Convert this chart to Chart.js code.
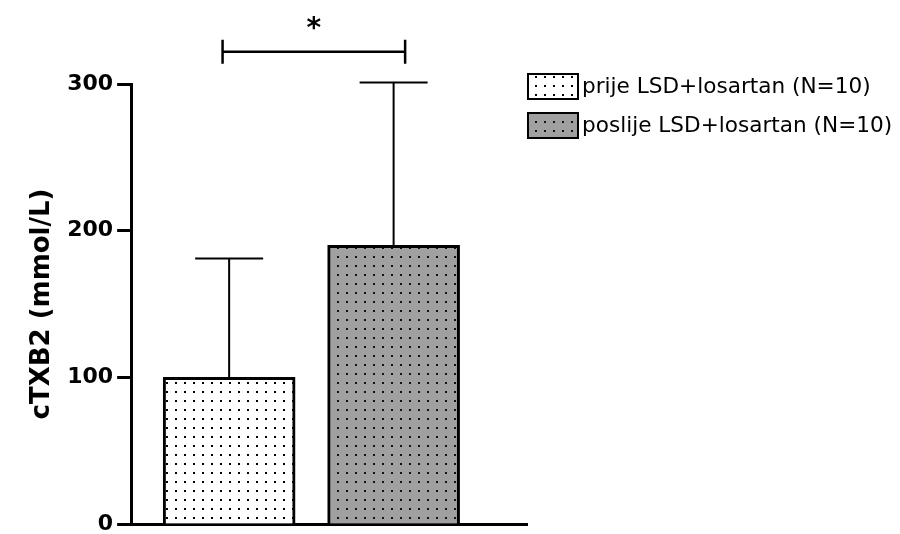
<!DOCTYPE html>
<html>
<head>
<meta charset="utf-8">
<script src="https://cdn.jsdelivr.net/npm/chart.js@4.4.1/dist/chart.umd.min.js"></script>
<style>
  html, body { margin: 0; padding: 0; background: #fff; }
  #myChart { display: block; }
</style>
</head>
<body>
<canvas id="myChart" width="900" height="534"></canvas>
<script>
// Data
const categories = ['prije LSD+losartan (N=10)', 'poslije LSD+losartan (N=10)'];
const means = [100, 190];
const errUpper = [181, 301];
const yTicks = [0, 100, 200, 300];
const yTitle = 'cTXB2 (mmol/L)';
// significance bracket between the two groups (x in category units, y in data units)
const sigFrom = -0.04;
const sigTo = 1.07;
const sigLevel = 322;
const sigLabel = '*';

function makeDots(bg, dot) {
    const c = document.createElement('canvas');
    c.width = 9;
    c.height = 9;
    const g = c.getContext('2d');
    g.fillStyle = bg;
    g.fillRect(0, 0, 9, 9);
    g.fillStyle = dot;
    g.fillRect(4, 4, 2, 2);
    return g.createPattern(c, 'repeat');
}

const fills = [makeDots('#ffffff', '#000000'), makeDots('#a0a0a0', '#111111')];

// error bars (upper only, with caps)
const errorBars = {
    id: 'errorBars',
    afterDatasetsDraw(chart) {
        const ctx = chart.ctx;
        const y = chart.scales.y;
        ctx.save();
        ctx.strokeStyle = '#000';
        ctx.lineWidth = 2;
        chart.data.datasets.forEach((ds, i) => {
            const bar = chart.getDatasetMeta(i).data[0];
            const top = y.getPixelForValue(errUpper[i]);
            ctx.beginPath();
            ctx.moveTo(bar.x, bar.y);
            ctx.lineTo(bar.x, top);
            ctx.moveTo(bar.x - 34, top);
            ctx.lineTo(bar.x + 34, top);
            ctx.stroke();
        });
        ctx.restore();
    }
};

// significance bracket with star
const sigBracket = {
    id: 'sigBracket',
    afterDraw(chart) {
        const ctx = chart.ctx;
        const x1 = chart.scales.x.getPixelForValue(sigFrom);
        const x2 = chart.scales.x.getPixelForValue(sigTo);
        const yy = chart.scales.y.getPixelForValue(sigLevel);
        ctx.save();
        ctx.strokeStyle = '#000';
        ctx.lineWidth = 2.5;
        ctx.beginPath();
        ctx.moveTo(x1, yy);
        ctx.lineTo(x2, yy);
        ctx.moveTo(x1, yy - 12);
        ctx.lineTo(x1, yy + 12);
        ctx.moveTo(x2, yy - 12);
        ctx.lineTo(x2, yy + 12);
        ctx.stroke();
        ctx.fillStyle = '#000';
        ctx.font = 'bold 28px "DejaVu Sans"';
        ctx.textAlign = 'center';
        ctx.textBaseline = 'middle';
        ctx.fillText(sigLabel, (x1 + x2) / 2, yy - 22);
        ctx.restore();
    }
};

// legend boxes at top right
const boxLegend = {
    id: 'boxLegend',
    afterDraw(chart) {
        const ctx = chart.ctx;
        ctx.save();
        chart.data.datasets.forEach((ds, i) => {
            const top = 74 + i * 39;
            ctx.fillStyle = ds.backgroundColor;
            ctx.fillRect(528, top, 50, 25);
            ctx.strokeStyle = '#000';
            ctx.lineWidth = 2;
            ctx.strokeRect(528, top, 50, 25);
            ctx.fillStyle = '#000';
            ctx.font = '21.6px "DejaVu Sans"';
            ctx.textAlign = 'left';
            ctx.textBaseline = 'middle';
            ctx.fillText(ds.label, 582, top + 13);
        });
        ctx.restore();
    }
};

const ctx = document.getElementById('myChart');

new Chart(ctx, {
    type: 'bar',
    data: {
        datasets: categories.map((name, i) => ({
            label: name,
            data: [{ x: i, y: means[i] }],
            backgroundColor: fills[i],
            borderColor: '#000',
            borderWidth: 3,
            barThickness: 132,
            grouped: false
        }))
    },
    options: {
        responsive: false,
        animation: false,
        layout: {
            padding: { top: 84, left: 18, right: 373, bottom: 10 }
        },
        scales: {
            x: {
                type: 'linear',
                offset: false,
                min: -0.596,
                max: 1.811,
                ticks: { display: false },
                grid: { display: false, drawTicks: false, offset: false },
                border: { display: true, color: '#000', width: 3 }
            },
            y: {
                min: 0,
                max: 300,
                afterBuildTicks(scale) {
                    scale.ticks = yTicks.map(v => ({ value: v }));
                },
                afterFit(scale) {
                    scale.paddingTop = 0;
                    scale.paddingBottom = 0;
                },
                ticks: {
                    color: '#000',
                    padding: 4,
                    font: { family: 'DejaVu Sans', size: 22, weight: 'bold' }
                },
                grid: {
                    drawOnChartArea: false,
                    drawTicks: true,
                    tickLength: 14,
                    tickWidth: 3,
                    tickColor: '#000'
                },
                border: { display: true, color: '#000', width: 3 },
                title: {
                    display: true,
                    text: yTitle,
                    color: '#000',
                    padding: { top: 9, bottom: 5 },
                    font: { family: 'DejaVu Sans', size: 26, weight: 'bold' }
                }
            }
        },
        plugins: {
            legend: { display: false },
            tooltip: { enabled: false }
        }
    },
    plugins: [errorBars, sigBracket, boxLegend]
});
</script>
</body>
</html>
